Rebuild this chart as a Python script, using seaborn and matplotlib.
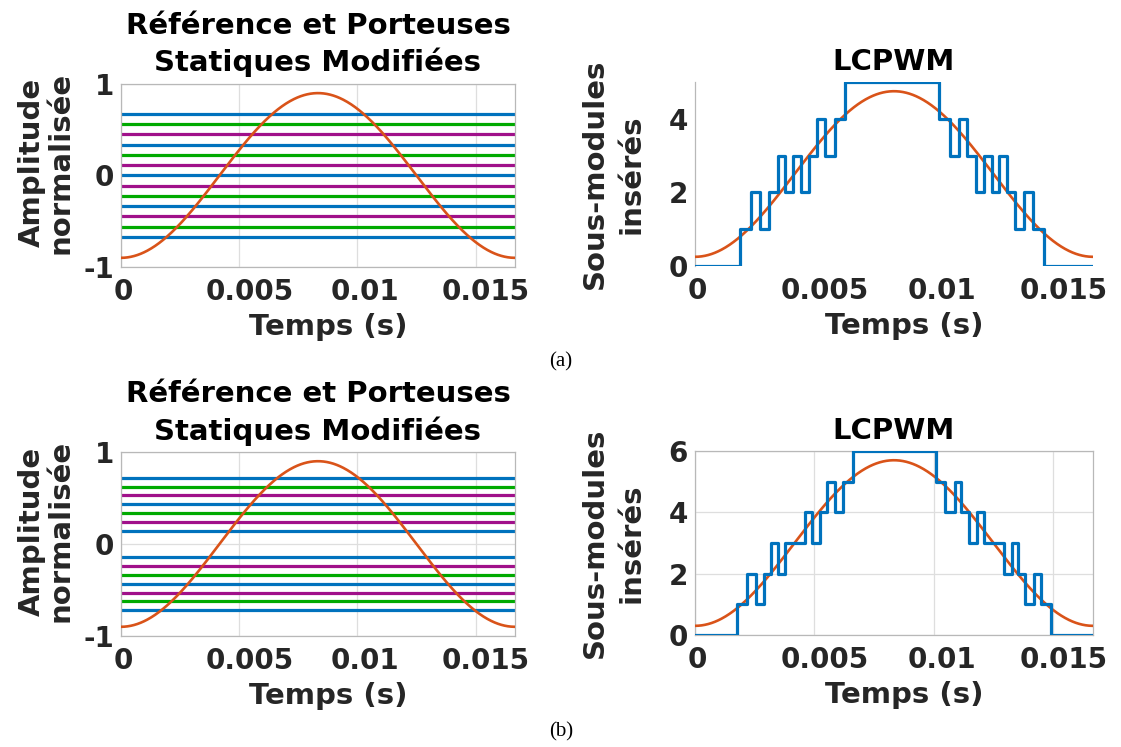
import numpy as np
import pandas as pd
import matplotlib
matplotlib.use("Agg")
import matplotlib.pyplot as plt
import matplotlib.transforms as mtransforms
import seaborn as sns

sns.set_theme(style="white")
plt.rcParams['font.family'] = ['DejaVu Sans']
plt.rcParams['font.weight'] = 'bold'

# ---------------- data ----------------
period = 1.0 / 60.0           # one fundamental period (s)
ref_amplitude = 0.9           # normalised reference amplitude (read from peak)

# static carriers, panel (a): 13 levels
carriers_a = [0.672, 0.560, 0.448, 0.336, 0.224, 0.112, 0.0,
              -0.112, -0.224, -0.336, -0.448, -0.560, -0.672]
carrier_groups_a = ['b', 'g', 'p', 'b', 'g', 'p', 'b',
                    'p', 'g', 'b', 'p', 'g', 'b']

# static carriers, panel (b): 14 levels
carriers_b = [0.720, 0.625, 0.530, 0.433, 0.337, 0.241, 0.145,
              -0.145, -0.241, -0.337, -0.433, -0.530, -0.625, -0.720]
carrier_groups_b = ['b', 'g', 'p', 'b', 'g', 'p', 'b',
                    'b', 'p', 'g', 'b', 'p', 'g', 'b']

# LCPWM inserted sub-modules, panel (a): N = 5
n_modules_a = 5
switch_times_a = [0.0, 0.00189, 0.00235, 0.00273, 0.00311, 0.00346, 0.00378,
                  0.00411, 0.00444, 0.00476, 0.00511, 0.00546, 0.00585,
                  0.00627, 0.01020, 0.01067, 0.01104, 0.01139, 0.01176,
                  0.01209, 0.01242, 0.01274, 0.01307, 0.01342, 0.01379,
                  0.01415, 0.01463, 0.016667]
levels_a = [0, 1, 2, 1, 2, 3, 2, 3, 2, 3, 4, 3, 4, 5,
            4, 3, 4, 3, 2, 3, 2, 3, 2, 1, 2, 1, 0, 0]

# LCPWM inserted sub-modules, panel (b): N = 6
n_modules_b = 6
switch_times_b = [0.0, 0.00177, 0.00219, 0.00255, 0.00289, 0.00319, 0.00346,
                  0.00377, 0.00460, 0.00491, 0.00522, 0.00551, 0.00586,
                  0.00620, 0.00660, 0.01008, 0.01049, 0.01088, 0.01116,
                  0.01148, 0.01181, 0.01209, 0.01293, 0.01328, 0.01353,
                  0.01384, 0.01418, 0.01451, 0.01492, 0.016667]
levels_b = [0, 1, 2, 1, 2, 3, 2, 3, 4, 3, 4, 5, 4, 5, 6,
            5, 4, 5, 4, 3, 4, 3, 2, 3, 2, 1, 2, 1, 0, 0]

xticks = [0, 0.005, 0.01, 0.015]
xticklabels = ['0', '0.005', '0.01', '0.015']

title_left = "Référence et Porteuses\nStatiques Modifiées"
title_right = "LCPWM"
xlabel = "Temps (s)"
ylabel_left = "Amplitude\nnormalisée"
ylabel_right = "Sous-modules\ninsérés"

# ---------------- styles ----------------
BLUE = '#0072BD'
ORANGE = '#D95319'
GREEN = '#00AA00'
PURPLE = '#A0108A'
carrier_color = {'b': BLUE, 'g': GREEN, 'p': PURPLE}
TXT = '#262626'
SPINE = '#b8b8b8'
GRID = '#dedede'

t = np.linspace(0, period, 600)
ref = -ref_amplitude * np.cos(2 * np.pi * t / period)

fig = plt.figure(figsize=(11.21, 7.47), dpi=100)

pos = {
    'TL': [0.1079, 0.6426, 0.3515, 0.2450],
    'TR': [0.6200, 0.6439, 0.3550, 0.2463],
    'BL': [0.1079, 0.1486, 0.3515, 0.2463],
    'BR': [0.6200, 0.1499, 0.3550, 0.2463],
}

TICK_FS = 20
XLABEL_FS = 21
YLABEL_FS = 21
TITLE_FS = 21


def style_common(ax):
    ax.set_xlim(0, period)
    ax.set_xticks(xticks)
    ax.set_xticklabels(xticklabels)
    ax.tick_params(axis='both', length=0, labelsize=TICK_FS, colors=TXT)
    ax.tick_params(axis='x', pad=8)
    ax.tick_params(axis='y', pad=5)
    for lab in ax.get_xticklabels() + ax.get_yticklabels():
        lab.set_fontweight('bold')
    ax.set_xlabel(xlabel, fontsize=XLABEL_FS, fontweight='bold', color=TXT, labelpad=5)
    ax.xaxis.label.set_x(0.525)


def carriers_panel(ax, carriers, groups, ylabel_y):
    df = pd.DataFrame({'t': t, 'ref': ref})
    for lvl, g in zip(carriers, groups):
        ax.hlines(lvl, 0, period, colors=carrier_color[g], linewidth=2.3, zorder=2)
    sns.lineplot(data=df, x='t', y='ref', ax=ax, color=ORANGE, linewidth=1.9,
                 estimator=None, sort=False, zorder=3)
    ax.set_ylim(-1, 1)
    ax.set_yticks([-1, 0, 1])
    ax.set_yticklabels(['-1', '0', '1'])
    ax.grid(True, color=GRID, linewidth=0.9, zorder=0)
    for s in ax.spines.values():
        s.set_visible(True)
        s.set_color(SPINE)
        s.set_linewidth(0.9)
    style_common(ax)
    ax.set_ylabel(ylabel_left, fontsize=YLABEL_FS, fontweight='bold', color=TXT,
                  linespacing=1.05)
    ax.yaxis.set_label_coords(-0.118, ylabel_y)
    ax.set_title(title_left, fontsize=TITLE_FS, fontweight='bold', color='black',
                 pad=9, linespacing=1.36)


def lcpwm_panel(ax, times, levels, n, ymax, yticks, grid, ylabel_y):
    df_step = pd.DataFrame({'t': times, 'n': levels})
    df_ref = pd.DataFrame({'t': t, 'v': n / 2.0 * (1 + ref)})
    sns.lineplot(data=df_ref, x='t', y='v', ax=ax, color=ORANGE, linewidth=1.9,
                 estimator=None, sort=False, zorder=3)
    sns.lineplot(data=df_step, x='t', y='n', ax=ax, color=BLUE, linewidth=2.3,
                 estimator=None, sort=False, drawstyle='steps-post', zorder=4)
    ax.set_ylim(0, ymax)
    ax.set_yticks(yticks)
    ax.set_yticklabels([str(v) for v in yticks])
    if grid:
        ax.grid(True, color=GRID, linewidth=0.9, zorder=0)
        for s in ax.spines.values():
            s.set_visible(True)
            s.set_color(SPINE)
            s.set_linewidth(0.9)
    else:
        ax.grid(False)
        for k, s in ax.spines.items():
            s.set_visible(k == 'left')
            s.set_color(SPINE)
            s.set_linewidth(0.9)
    style_common(ax)
    ax.set_ylabel(ylabel_right, fontsize=YLABEL_FS, fontweight='bold', color=TXT,
                  linespacing=1.38)
    ax.yaxis.set_label_coords(-0.125, ylabel_y)
    ax.set_title(title_right, fontsize=TITLE_FS, fontweight='bold', color='black', pad=9)


ax_tl = fig.add_axes(pos['TL'])
carriers_panel(ax_tl, carriers_a, carrier_groups_a, 0.57)
ax_tr = fig.add_axes(pos['TR'])
lcpwm_panel(ax_tr, switch_times_a, levels_a, n_modules_a, 5, [0, 2, 4], False, 0.5)
ax_bl = fig.add_axes(pos['BL'])
carriers_panel(ax_bl, carriers_b, carrier_groups_b, 0.57)
ax_br = fig.add_axes(pos['BR'])
lcpwm_panel(ax_br, switch_times_b, levels_b, n_modules_b, 6, [0, 2, 4, 6], True, 0.5)

# MATLAB-export look: wide tick labels sit slightly right of their ticks
renderer = fig.canvas.get_renderer()
for ax in (ax_tl, ax_tr, ax_bl, ax_br):
    for lab in ax.get_xticklabels():
        w_px = lab.get_window_extent(renderer).width
        dx = 0.115 * w_px / fig.dpi
        lab.set_transform(lab.get_transform()
                          + mtransforms.ScaledTranslation(dx, 0, fig.dpi_scale_trans))

fig.text(561 / 1121, 1 - 362 / 747, "(a)", family='Liberation Serif', fontsize=15,
         ha='center', va='center', color='black', fontweight='normal')
fig.text(561 / 1121, 1 - 732 / 747, "(b)", family='Liberation Serif', fontsize=15,
         ha='center', va='center', color='black', fontweight='normal')

fig.savefig('out.png', dpi=100, facecolor='white')
